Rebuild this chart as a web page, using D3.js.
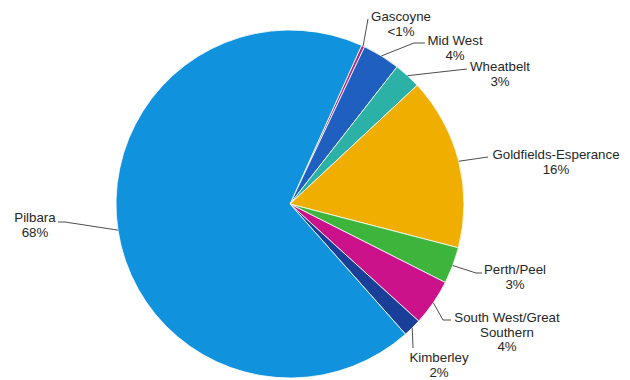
<!DOCTYPE html>
<html>
<head>
<meta charset="utf-8">
<script src="https://cdn.jsdelivr.net/npm/d3@7"></script>
<style>
  html, body { margin: 0; padding: 0; background: #fff; }
  svg { display: block; }
  text { font-family: "Liberation Sans", Arial, sans-serif; font-size: 13.3px; fill: #262626; }
</style>
</head>
<body>
<svg id="chart" width="630" height="380"></svg>
<script>
// Share of total by region (percent), in clockwise order
const regions = ["Gascoyne", "Mid West", "Wheatbelt", "Goldfields-Esperance",
                 "Perth/Peel", "South West/Great Southern", "Kimberley", "Pilbara"];
const shares  = [0.3, 3.5, 2.5, 16.0, 3.4, 4.3, 1.7, 68.3];
const colours = ["#b0248a", "#1f5fc0", "#2bb1a6", "#f0ae00",
                 "#3db53c", "#cc128a", "#193f98", "#1192dc"];

// Label text lines per region
const labelLines = [["Gascoyne"], ["Mid West"], ["Wheatbelt"], ["Goldfields-Esperance"],
                    ["Perth/Peel"], ["South West/Great", "Southern"], ["Kimberley"], ["Pilbara"]];

// Label layout: text centre, first baseline, and leader path after the slice edge
const labelLayout = [
  { x: 401, y: 21,  path: [[368, 19]] },
  { x: 455, y: 45,  path: [[414, 43], [425, 43]] },
  { x: 500, y: 71,  path: [[467, 69]] },
  { x: 556, y: 159, path: [[488, 157]] },
  { x: 515, y: 274, path: [[476, 273], [482, 273]] },
  { x: 507, y: 322, path: [[443, 320], [451, 320]] },
  { x: 439, y: 362, path: [[413, 348]] },
  { x: 35,  y: 222, path: [[65, 222], [58, 222]] }
];

const cx = 290, cy = 204, radius = 174;
const startDeg = 24.3;

const svg = d3.select("#chart");
const g = svg.append("g").attr("transform", `translate(${cx},${cy})`);

const data = regions.map((r, i) => ({ region: r, value: shares[i], i }));

const pie = d3.pie()
  .sort(null)
  .value(d => d.value)
  .startAngle(startDeg * Math.PI / 180)
  .endAngle((startDeg + 360) * Math.PI / 180);

const arc = d3.arc().innerRadius(0).outerRadius(radius);
const arcs = pie(data);

g.selectAll("path.slice")
  .data(arcs)
  .join("path")
  .attr("class", "slice")
  .attr("d", arc)
  .attr("fill", d => colours[d.data.i])
  .attr("stroke", "#ffffff")
  .attr("stroke-width", 0.8)
  .attr("stroke-linejoin", "round");

const fmt = v => v < 1 ? "<1%" : Math.round(v) + "%";

// Leader lines from the slice edge at its mid-angle
const line = d3.line();
svg.selectAll("path.leader")
  .data(arcs)
  .join("path")
  .attr("class", "leader")
  .attr("d", d => {
    const a = (d.startAngle + d.endAngle) / 2;
    const start = [cx + radius * Math.sin(a), cy - radius * Math.cos(a)];
    return line([start, ...labelLayout[d.data.i].path]);
  })
  .attr("fill", "none")
  .attr("stroke", "#4d4d4d")
  .attr("stroke-width", 1);

// Category name and percentage labels
const labels = svg.selectAll("text.label")
  .data(arcs)
  .join("text")
  .attr("class", "label")
  .attr("text-anchor", "middle");

labels.each(function(d) {
  const lay = labelLayout[d.data.i];
  const lines = [...labelLines[d.data.i], fmt(d.data.value)];
  d3.select(this).selectAll("tspan")
    .data(lines)
    .join("tspan")
    .attr("x", lay.x)
    .attr("y", (t, k) => lay.y + k * 14.5)
    .text(t => t);
});
</script>
</body>
</html>
